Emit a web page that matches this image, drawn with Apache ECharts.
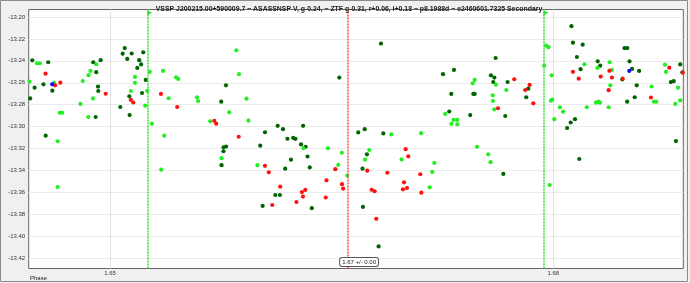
<!DOCTYPE html>
<html><head><meta charset="utf-8">
<script src="https://cdn.jsdelivr.net/npm/echarts@6/dist/echarts.min.js"></script>
<style>html,body{margin:0;padding:0;background:#f0f0f0}#c{width:690px;height:283px}</style>
</head><body><div id="c"></div><script>
// ---- data (phase, magnitude) ----
const titleText = 'VSSP J200215.00+590009.7 ~ ASASSNSP V, g-0.24, ~ ZTF g-0.31, r+0.06, i+0.18 ~ p8.1988d ~ e2460601.7325 Secondary';
const phaseTicks = [1.65, 1.68];
const magTicks = [-13.42, -13.40, -13.38, -13.36, -13.34, -13.32, -13.30, -13.28, -13.26, -13.24, -13.22, -13.20];
const phaseRange = [1.6445, 1.6888];
const magRange = [-13.4293, -13.1932];
const eclipseLines = [1.65255, 1.67937];   // green markers
const centerLine = 1.66608;                // red marker
const centerLabel = '1.67 +/- 0.00';

const asassnV = [
[1.64474,-13.2395],[1.64460,-13.2743],[1.64490,-13.2645],[1.64550,-13.2614],[1.64582,-13.2413],[1.64610,-13.2672],
[1.64565,-13.3082],[1.64887,-13.2413],[1.64907,-13.2503],[1.64919,-13.2635],[1.64921,-13.2675],[1.64937,-13.2394],
[1.64903,-13.2912],[1.65070,-13.2821],[1.65086,-13.2335],[1.65100,-13.2284],[1.65117,-13.2383],[1.65131,-13.2723],
[1.65133,-13.2894],[1.65147,-13.2333],[1.65198,-13.2394],[1.65211,-13.2433],[1.65185,-13.2465],[1.65225,-13.2322],
[1.65242,-13.2574],[1.65217,-13.2693],[1.65785,-13.2623],[1.65753,-13.2772],[1.66049,-13.3051],[1.66135,-13.2992],
[1.66171,-13.3023],[1.66201,-13.3110],[1.66240,-13.3103],[1.66255,-13.3111],[1.66307,-13.2992],[1.66552,-13.2553],
[1.65769,-13.3188],[1.65786,-13.3181],[1.65768,-13.3224],[1.65755,-13.3351],[1.66017,-13.3173],[1.66225,-13.3301],
[1.66186,-13.3383],[1.66293,-13.3162],[1.66324,-13.3183],[1.66337,-13.3272],[1.66352,-13.3372],[1.66119,-13.3623],
[1.66150,-13.3623],[1.66033,-13.3723],[1.66366,-13.3743],[1.66680,-13.3053],[1.66724,-13.3023],[1.66834,-13.2243],
[1.66850,-13.3062],[1.67254,-13.2522],[1.67328,-13.2483],[1.67310,-13.2702],[1.67296,-13.2862],[1.67438,-13.2894],
[1.67459,-13.2702],[1.67468,-13.2702],[1.67610,-13.2374],[1.67578,-13.2532],[1.67601,-13.2553],[1.67594,-13.2593],
[1.67691,-13.2593],[1.67675,-13.2903],[1.67831,-13.2654],[1.67817,-13.2732],[1.68123,-13.2084],[1.68133,-13.2234],
[1.68199,-13.2253],[1.68160,-13.2365],[1.68185,-13.2476],[1.68094,-13.3012],[1.68118,-13.2962],[1.68147,-13.2932],
[1.68301,-13.2404],[1.68318,-13.2444],[1.68482,-13.2284],[1.68501,-13.2284],[1.68516,-13.2404],[1.68533,-13.2474],
[1.68581,-13.2492],[1.68467,-13.2570],[1.68565,-13.2623],[1.68500,-13.2772],[1.68551,-13.2732],[1.68796,-13.2594],
[1.68815,-13.2585],[1.68859,-13.2433],[1.68874,-13.2504],[1.66739,-13.3252],[1.66709,-13.3383],[1.66712,-13.3732],
[1.66818,-13.4092],[1.67662,-13.3431],[1.68176,-13.3295],[1.68830,-13.3131]
];
const ztfG = [
[1.64455,-13.2590],[1.64506,-13.2422],[1.64525,-13.2422],[1.64621,-13.2600],[1.64660,-13.2873],[1.64677,-13.2873],
[1.64646,-13.3133],[1.64646,-13.3550],[1.64816,-13.2584],[1.64800,-13.2793],[1.64855,-13.2531],[1.64868,-13.2492],
[1.64907,-13.2431],[1.64853,-13.2912],[1.64885,-13.2743],[1.65169,-13.2547],[1.65169,-13.2600],[1.65142,-13.2675],
[1.65252,-13.2673],[1.65239,-13.2809],[1.65269,-13.2501],[1.65284,-13.2973],[1.65359,-13.2492],[1.65367,-13.3082],
[1.65447,-13.2550],[1.65462,-13.2565],[1.65397,-13.2741],[1.65589,-13.2732],[1.65596,-13.2766],[1.65678,-13.2951],
[1.65807,-13.2869],[1.65855,-13.2304],[1.65873,-13.2522],[1.65924,-13.2745],[1.65937,-13.2945],[1.65347,-13.3392],
[1.65755,-13.3287],[1.65998,-13.3351],[1.66309,-13.3197],[1.66475,-13.3197],[1.66569,-13.3238],[1.66545,-13.3349],
[1.66606,-13.3445],[1.66904,-13.3071],[1.67106,-13.3059],[1.67269,-13.2884],[1.67325,-13.2939],[1.67350,-13.2939],
[1.67311,-13.2974],[1.67350,-13.2978],[1.67455,-13.2605],[1.67468,-13.2574],[1.67590,-13.2714],[1.67592,-13.2766],
[1.67601,-13.2843],[1.67612,-13.2617],[1.67682,-13.2666],[1.67951,-13.2262],[1.67968,-13.2275],[1.67938,-13.2444],
[1.67989,-13.2532],[1.67984,-13.2764],[1.67993,-13.2754],[1.68045,-13.2823],[1.68066,-13.2863],[1.68007,-13.2932],
[1.68211,-13.2431],[1.68227,-13.2823],[1.68299,-13.2465],[1.68289,-13.2781],[1.68306,-13.2772],[1.68316,-13.2781],
[1.68382,-13.2413],[1.68397,-13.2483],[1.68386,-13.2623],[1.68375,-13.2823],[1.68665,-13.2634],[1.68681,-13.2772],
[1.68697,-13.2772],[1.68756,-13.2435],[1.68763,-13.2501],[1.68844,-13.2645],[1.68826,-13.2793],[1.68859,-13.2761],
[1.66755,-13.3213],[1.66726,-13.3301],[1.66974,-13.3299],[1.67195,-13.3331],[1.67181,-13.3413],[1.67164,-13.3553],
[1.67484,-13.3183],[1.67560,-13.3252],[1.67576,-13.3324],[1.67976,-13.3532]
];
const ztfR = [
[1.64564,-13.2517],[1.64629,-13.2623],[1.64664,-13.2599],[1.64971,-13.2700],[1.65141,-13.2755],[1.65158,-13.2780],
[1.65345,-13.2702],[1.65455,-13.2821],[1.65706,-13.2946],[1.65719,-13.2973],[1.65871,-13.3092],[1.66049,-13.3357],
[1.66075,-13.3416],[1.66152,-13.3547],[1.66299,-13.3596],[1.66322,-13.3577],[1.66306,-13.3637],[1.66262,-13.3687],
[1.66098,-13.3714],[1.66465,-13.3489],[1.66460,-13.3646],[1.66525,-13.3388],[1.66570,-13.3524],[1.66578,-13.3564],
[1.67736,-13.2568],[1.67840,-13.2620],[1.67810,-13.2666],[1.67865,-13.2787],[1.67626,-13.2832],[1.68133,-13.2500],
[1.68172,-13.2563],[1.68321,-13.2543],[1.68380,-13.2491],[1.68397,-13.2552],[1.68375,-13.2667],[1.68470,-13.2563],
[1.68661,-13.2734],[1.68785,-13.2462],[1.68876,-13.2508],[1.67001,-13.3205],[1.67019,-13.3270],[1.66741,-13.3401],
[1.66877,-13.3420],[1.67100,-13.3434],[1.66990,-13.3507],[1.66983,-13.3571],[1.67010,-13.3559],[1.66771,-13.3575],
[1.66791,-13.3589],[1.67107,-13.3602],[1.66802,-13.3840]
];
const ztfI = [[1.64609,-13.2614],[1.68514,-13.2492]];

const FONT = 'Liberation Sans';
const chart = echarts.init(document.getElementById('c'), null, {renderer: 'canvas'});
const mkScatter = (name, data, color) => ({
  name, type: 'scatter', data, symbol: 'circle', symbolSize: 4.2,
  itemStyle: {color, opacity: 1}, animation: false, silent: true
});
const vline = (x, color) => [
  {coord: [x, magRange[0]], lineStyle: {color, type: [2, 1], width: 1.5}},
  {coord: [x, magRange[1]]}
];
chart.setOption({
  backgroundColor: '#f0f0f0',
  animation: false,
  title: {
    text: titleText, left: 344, top: 1, textAlign: 'center',
    textStyle: {fontFamily: FONT, fontSize: 6.9, fontWeight: 'bold', color: '#222'}
  },
  grid: {left: 28.7, right: 6.7, top: 9.5, bottom: 14.5, show: true,
         backgroundColor: '#ffffff', borderColor: '#666', borderWidth: 1,
         containLabel: false, outerBoundsMode: 'none'},
  xAxis: {
    type: 'value', min: phaseRange[0], max: phaseRange[1],
    axisLine: {show: false},
    axisTick: {show: false, customValues: phaseTicks},
    axisLabel: {customValues: phaseTicks, formatter: v => v.toFixed(2), fontFamily: FONT, fontSize: 6, color: '#333', margin: 2},
    splitLine: {show: true, lineStyle: {color: '#e2e2e2', width: 1}}
  },
  yAxis: {
    type: 'value', min: magRange[0], max: magRange[1],
    name: 'Mag', nameLocation: 'middle', nameGap: 24, nameRotate: 90,
    nameTextStyle: {fontFamily: FONT, fontSize: 6, color: '#222', padding: [0, 0, 0, 18]},
    axisLine: {show: false},
    axisTick: {show: false, customValues: magTicks},
    axisLabel: {customValues: magTicks, formatter: v => v.toFixed(2), fontFamily: FONT, fontSize: 6, color: '#333', margin: 3.5},
    splitLine: {show: true, lineStyle: {color: '#ebebeb', width: 1}}
  },
  graphic: [
    {type: 'text', left: 30, top: 275, style: {text: 'Phase', fontFamily: FONT, fontSize: 6, fill: '#222'}},
    {type: 'rect', shape: {x: 0.5, y: 0.5, width: 687, height: 281}, style: {fill: 'none', stroke: '#8a8a8a', lineWidth: 1}, silent: true}
  ],
  series: [
    mkScatter('ASASSN V', asassnV, '#006400'),
    mkScatter('ZTF g', ztfG, '#22ee22'),
    mkScatter('ZTF r', ztfR, '#ff1010'),
    mkScatter('ZTF i', ztfI, '#1010ff'),
    {
      name: 'markers', type: 'scatter', data: [], silent: true, animation: false,
      markLine: {
        symbol: ['none', 'none'], silent: true, animation: false, label: {show: false},
        precision: 6,
        data: [
          ...eclipseLines.map(x => vline(x, '#33e033')),
          vline(centerLine, '#ff4a4a')
        ]
      },
      markPoint: {
        silent: true, animation: false,
        data: [
          ...eclipseLines.map(x => ({coord: [x, magRange[1] - 0.003], symbol: 'triangle', symbolRotate: -90, symbolSize: 5, symbolOffset: [2, 0], itemStyle: {color: '#33e033'}, label: {show: false}})),
          {coord: [centerLine, magRange[0] + 0.006], symbol: 'rect', symbolSize: 0,
           label: {show: true, position: 'inside', offset: [11.5, 0], formatter: centerLabel,
                   fontFamily: FONT, fontSize: 6, color: '#222', backgroundColor: '#ffffff',
                   borderColor: '#555', borderWidth: 1, borderRadius: 2, padding: [1, 2]}}
        ]
      }
    }
  ]
});
</script></body></html>
